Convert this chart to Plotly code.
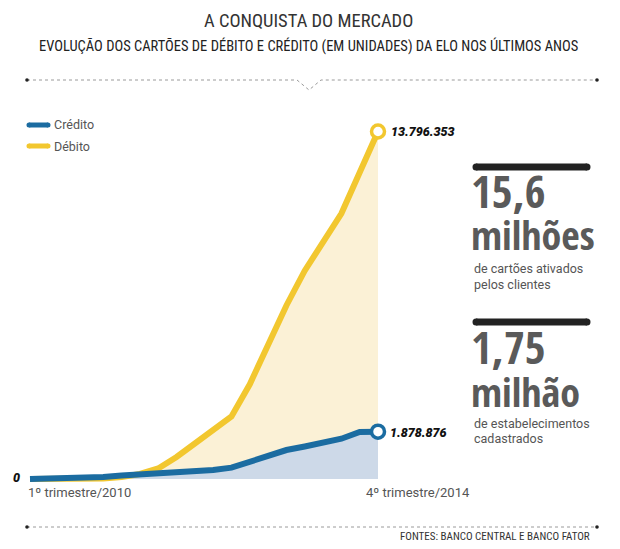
import plotly.graph_objects as go

# ---------------- data ----------------
trimestres = [f"{q}º trimestre/{a}" for a in range(2010, 2015) for q in range(1, 5)]
credito = [0, 15000, 35000, 55000, 80000, 140000, 175000, 210000, 250000, 300000,
           360000, 450000, 676000, 940000, 1150000, 1290000, 1430000, 1600000, 1870000, 1878876]
debito = [0, 0, 0, 0, 20000, 80000, 200000, 420000, 875000, 1410000,
          1950000, 2480000, 3760000, 5330000, 6890000, 8270000, 9380000, 10540000, 12170000, 13796353]
rotulo_inicio = "1º trimestre/2010"
rotulo_fim = "4º trimestre/2014"
valor_fim_debito = "13.796.353"
valor_fim_credito = "1.878.876"

# ---------------- geometry (page pixels; the page body adds an 8px offset) ----------------
OFF = 8
W, H = 620 - OFF, 549 - OFF
L, Rpx = 25, 384          # plot area left/right in page px
T, Bpx = 120, 487         # plot area top/bottom in page px
X0, X19 = 30, 378         # px of first/last quarter
Y0, YTOP = 479, 131.5     # px of zero and of the debit maximum
kx = (X19 - X0) / (len(trimestres) - 1)
sy = max(debito) / (Y0 - YTOP)
xr = [(L - X0) / kx, (Rpx - X0) / kx]
yr = [(Y0 - Bpx) * sy, (Y0 - T) * sy]
PW, PH = Rpx - L, Bpx - T


def px(x):
    return (x - L) / PW


def py(y):
    return (Bpx - y) / PH


YEL = "#f2c72f"
BLU = "#1b6ca1"
YEL_FILL = "#fbf1d6"
BLU_FILL = "#cdd9e8"
GREY = "#555555"
COND = "Open Sans Condensed, Roboto Condensed, sans-serif"
RCOND = "Roboto Condensed, Open Sans Condensed, sans-serif"
SANS = "Roboto, Noto Sans, sans-serif"

xi = list(range(len(trimestres)))

fig = go.Figure()
fig.add_trace(go.Scatter(x=xi, y=debito, mode="lines", fill="tozeroy",
                         fillcolor=YEL_FILL, line=dict(width=0), hoverinfo="skip"))
fig.add_trace(go.Scatter(x=xi, y=credito, mode="lines", fill="tozeroy",
                         fillcolor=BLU_FILL, line=dict(width=0), hoverinfo="skip"))
fig.add_trace(go.Scatter(x=xi, y=debito, mode="lines", name="Débito",
                         line=dict(color=YEL, width=6)))
fig.add_trace(go.Scatter(x=xi, y=credito, mode="lines", name="Crédito",
                         line=dict(color=BLU, width=6)))
fig.add_trace(go.Scatter(x=[xi[-1], xi[-1]], y=[debito[-1], credito[-1]], mode="markers",
                         marker=dict(size=13, color="white",
                                     line=dict(color=[YEL, BLU], width=3.5)),
                         cliponaxis=False, hoverinfo="skip"))

shapes = []
ann = []


def pshape(**kw):
    d = dict(xref="paper", yref="paper")
    d.update(kw)
    shapes.append(d)


def dotted_rule(y, notch=False):
    dash = dict(color="#9a9a9a", width=1, dash="dot")
    if notch:
        pshape(type="path",
               path=f"M {px(27)},{py(y)} L {px(297)},{py(y)} L {px(309)},{py(y+10)} "
                    f"L {px(321)},{py(y)} L {px(597)},{py(y)}",
               line=dash)
    else:
        pshape(type="line", x0=px(27), x1=px(597), y0=py(y), y1=py(y), line=dash)
    for x in (27, 597):
        pshape(type="circle", x0=px(x - 1.8), x1=px(x + 1.8), y0=py(y - 1.8), y1=py(y + 1.8),
               fillcolor="#222", line=dict(width=0))


def a(x, y, text, font, xanchor="left", yanchor="middle"):
    ann.append(dict(xref="paper", yref="paper", x=px(x), y=py(y), text=text,
                    xanchor=xanchor, yanchor=yanchor, font=font, showarrow=False))


dotted_rule(80, notch=True)
dotted_rule(527)

# legend
for yy, col, txt in [(125, BLU, "Crédito"), (146, YEL, "Débito")]:
    pshape(type="line", x0=px(29), x1=px(48), y0=py(yy), y1=py(yy),
           line=dict(color=col, width=5))
    for x in (29, 48):
        pshape(type="circle", x0=px(x - 2.5), x1=px(x + 2.5), y0=py(yy - 2.5), y1=py(yy + 2.5),
               fillcolor=col, line=dict(width=0))
    a(52, yy, txt, dict(family=SANS, size=12.5, color=GREY))

# stat bars
for yy in (167, 322):
    pshape(type="line", x0=px(476), x1=px(587), y0=py(yy), y1=py(yy),
           line=dict(color="#222", width=7))
    for x in (476, 587):
        pshape(type="circle", x0=px(x - 3.5), x1=px(x + 3.5), y0=py(yy - 3.5), y1=py(yy + 3.5),
               fillcolor="#222", line=dict(width=0))

# titles
a(308, 21, "A CONQUISTA DO MERCADO", dict(family=RCOND, size=18.5, color="#333"), "center")
a(308, 46, "EVOLUÇÃO DOS CARTÕES DE DÉBITO E CRÉDITO (EM UNIDADES) DA ELO NOS ÚLTIMOS ANOS",
  dict(family=RCOND, size=14.5, color="#222"), "center")

# values
VAL = dict(family=SANS, size=12.5, color="#111", weight=900, style="italic")
a(389, 131, valor_fim_debito, VAL)
a(388, 432, valor_fim_credito, VAL)
a(22, 477, "0", VAL, "right")

# axis labels
a(26, 492, rotulo_inicio, dict(family=SANS, size=13, color=GREY))
a(364, 492, rotulo_fim, dict(family=SANS, size=13, color=GREY))

# footer
a(592, 536, "FONTES: BANCO CENTRAL E BANCO FATOR", dict(family=RCOND, size=11, color="#333"), "right")

# stats
NUM = dict(family=COND, size=45, color="#5a5a5a", weight="bold")
WORD = dict(family=COND, size=40, color="#5a5a5a", weight="bold")
SMALL = dict(family=SANS, size=12.5, color=GREY)
a(469, 190, "15,6", NUM)
a(469, 234, "milhões", WORD)
a(472, 268, "de cartões ativados", SMALL)
a(472, 284, "pelos clientes", SMALL)
a(469, 346, "1,75", NUM)
a(469, 391, "milhão", WORD)
a(472, 423, "de estabelecimentos", SMALL)
a(472, 438, "cadastrados", SMALL)

fig.update_layout(
    width=W, height=H,
    margin=dict(l=L - OFF, r=W - (Rpx - OFF), t=T - OFF, b=H - (Bpx - OFF), pad=0),
    paper_bgcolor="white", plot_bgcolor="white",
    showlegend=False,
    xaxis=dict(range=xr, visible=False, fixedrange=True),
    yaxis=dict(range=yr, visible=False, fixedrange=True),
    shapes=shapes, annotations=ann,
)
fig.write_html("out.html")
